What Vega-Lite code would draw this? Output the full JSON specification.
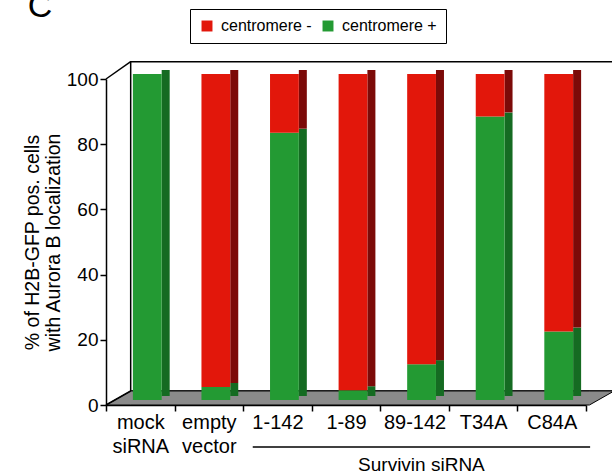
{
  "$schema": "https://vega.github.io/schema/vega-lite/v6.json",
  "width": 480,
  "height": 326,
  "autosize": {"type": "none"},
  "padding": {"left": 106, "top": 79, "right": 26, "bottom": 70},
  "background": "white",
  "config": {
    "view": {"stroke": null},
    "font": "Liberation Sans",
    "axis": {"labelFont": "Liberation Sans", "titleFont": "Liberation Sans", "labelColor": "black", "titleColor": "black"},
    "legend": {"labelFont": "Liberation Sans"}
  },
  "datasets": {
    "bars": [
      {"group": "mock siRNA", "status": "centromere +", "pct": 100},
      {"group": "mock siRNA", "status": "centromere -", "pct": 0},
      {"group": "empty vector", "status": "centromere +", "pct": 4},
      {"group": "empty vector", "status": "centromere -", "pct": 96},
      {"group": "1-142", "status": "centromere +", "pct": 82},
      {"group": "1-142", "status": "centromere -", "pct": 18},
      {"group": "1-89", "status": "centromere +", "pct": 3},
      {"group": "1-89", "status": "centromere -", "pct": 97},
      {"group": "89-142", "status": "centromere +", "pct": 11},
      {"group": "89-142", "status": "centromere -", "pct": 89},
      {"group": "T34A", "status": "centromere +", "pct": 87},
      {"group": "T34A", "status": "centromere -", "pct": 13},
      {"group": "C84A", "status": "centromere +", "pct": 21},
      {"group": "C84A", "status": "centromere -", "pct": 79}
    ],
    "floor": [
      {"u": 0, "lo": 0, "hi": 0},
      {"u": 0.36, "lo": 0, "hi": 4.3},
      {"u": 7.05, "lo": 0, "hi": 4.3},
      {"u": 7.41, "lo": 4.3, "hi": 4.3}
    ],
    "wall": [{"u": 0.36, "u2": 7.8, "v": 4.3, "v2": 105.3}],
    "edges": [
      {"u": 0, "u2": 0.36, "v": 0, "v2": 4.3},
      {"u": 0, "u2": 0.36, "v": 100, "v2": 105.3},
      {"u": 2.14, "u2": 7.06, "v": -12.9, "v2": -12.9}
    ],
    "labels": [
      {"u": 4.6, "v": -18.5, "txt": "Survivin siRNA", "kind": "group"},
      {"u": -1.14, "v": 119, "txt": "C", "kind": "panel"}
    ]
  },
  "layer": [
    {
      "layer": [
        {
          "data": {"name": "wall"},
          "mark": {"type": "rect", "fill": "white", "stroke": "black", "strokeWidth": 1.5},
          "encoding": {
            "x": {"field": "u", "type": "quantitative", "scale": {"domain": [0, 7], "nice": false, "zero": false}, "axis": null},
            "x2": {"field": "u2"},
            "y": {
              "field": "v", "type": "quantitative", "scale": {"domain": [0, 100], "nice": false},
              "axis": {
                "values": [0, 20, 40, 60, 80, 100], "grid": false, "labelFontSize": 19, "tickSize": 6,
                "tickColor": "black", "tickWidth": 1.5, "domainColor": "black", "domainWidth": 1.5, "labelPadding": 2,
                "title": ["% of H2B-GFP pos. cells", "with Aurora B localization"],
                "titleFontSize": 19.5, "titleFontWeight": "normal", "titleLineHeight": 21, "titlePadding": 3
              }
            },
            "y2": {"field": "v2"}
          }
        },
        {
          "data": {"name": "floor"},
          "mark": {"type": "area", "fill": "#8a8a8a", "stroke": "black", "strokeWidth": 1},
          "encoding": {
            "x": {"field": "u", "type": "quantitative"},
            "y": {"field": "hi", "type": "quantitative"},
            "y2": {"field": "lo"}
          }
        },
        {
          "data": {"name": "edges"},
          "mark": {"type": "rule", "color": "black", "strokeWidth": 1.5},
          "encoding": {
            "x": {"field": "u", "type": "quantitative"},
            "x2": {"field": "u2"},
            "y": {"field": "v", "type": "quantitative"},
            "y2": {"field": "v2"}
          }
        },
        {
          "data": {"name": "labels"},
          "transform": [{"filter": "datum.kind == 'group'"}],
          "mark": {"type": "text", "fontSize": 19, "align": "center", "baseline": "middle", "color": "black"},
          "encoding": {
            "x": {"field": "u", "type": "quantitative"},
            "y": {"field": "v", "type": "quantitative"},
            "text": {"field": "txt"}
          }
        },
        {
          "data": {"name": "labels"},
          "transform": [{"filter": "datum.kind == 'panel'"}],
          "mark": {"type": "text", "fontSize": 34, "align": "left", "baseline": "alphabetic", "color": "black"},
          "encoding": {
            "x": {"field": "u", "type": "quantitative"},
            "y": {"field": "v", "type": "quantitative"},
            "text": {"field": "txt"}
          }
        }
      ]
    },
    {
      "data": {"name": "bars"},
      "layer": [
        {
          "mark": {"type": "bar", "width": 8, "xOffset": 25.4, "yOffset": -9, "y2Offset": -9},
          "encoding": {
            "x": {
              "field": "group", "type": "nominal", "sort": null,
              "scale": {"paddingInner": 0, "paddingOuter": 0},
              "axis": {
                "orient": "bottom",
                "title": null, "labelAngle": 0, "labelFontSize": 20, "labelExpr": "split(datum.label, ' ')",
                "labelLineHeight": 24, "tickBand": "extent", "tickSize": 6, "tickColor": "black", "tickWidth": 1.5,
                "domainColor": "black", "domainWidth": 1.5, "labelPadding": 1
              }
            },
            "y": {"field": "pct", "type": "quantitative", "stack": "zero"},
            "color": {"field": "status", "type": "nominal", "scale": {"domain": ["centromere -", "centromere +"], "range": ["#7c0a08", "#156b22"]}, "legend": null},
            "order": {"field": "status", "sort": "ascending"}
          }
        },
        {
          "mark": {"type": "bar", "width": {"band": 0.42}, "xOffset": 7, "yOffset": -5, "y2Offset": -5},
          "encoding": {
            "x": {"field": "group", "type": "nominal", "sort": null},
            "y": {"field": "pct", "type": "quantitative", "stack": "zero"},
            "color": {
              "field": "status", "type": "nominal",
              "scale": {"domain": ["centromere -", "centromere +"], "range": ["#e2170b", "#239a33"]},
              "legend": {
                "title": null, "orient": "none", "legendX": 84, "legendY": -70, "direction": "horizontal",
                "symbolType": "square", "symbolSize": 120, "symbolStrokeWidth": 0, "labelFontSize": 16,
                "strokeColor": "black", "padding": 9, "columnPadding": 8, "labelOffset": 6, "fillColor": "white"
              }
            },
            "order": {"field": "status", "sort": "ascending"}
          }
        }
      ],
      "resolve": {"scale": {"color": "independent"}}
    }
  ],
  "resolve": {"scale": {"x": "independent"}, "axis": {"x": "independent"}}
}
